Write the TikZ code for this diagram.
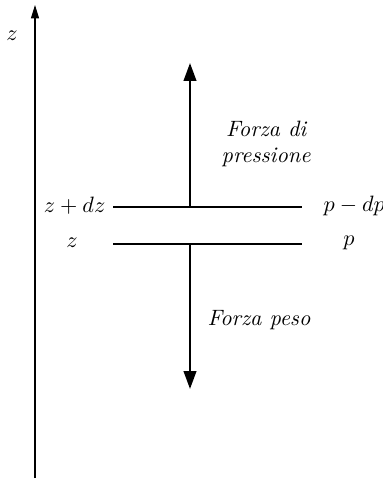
\documentclass[tikz,border=0pt]{standalone}
\usetikzlibrary{arrows.meta}
\tikzset{
  axisArr/.style={
    -{Triangle[length=6pt, width=3.6pt]}, line width=0.5pt
  },
  forceArr/.style={
    -{Triangle[length=8pt, width=5.6pt]}, line width=1pt
  },
  layer/.style={
    line width=0.5pt
  },
  lbl/.style={
    font=\normalsize, inner sep=1pt
  },
  forceLbl/.style={
    font=\normalsize\itshape, align=left, inner sep=1pt
  }
}

\begin{document}
\begin{tikzpicture}[x=0.45pt, y=-0.45pt]

  \useasboundingbox (0,0) rectangle (383,480);

  % vertical axis
  \coordinate (ax0) at (35,478);
  \coordinate (ax1) at (35,5);
  \draw[axisArr] (ax0) -- (ax1);
  \node[lbl] (zAxis) at (12,36) {$z$};

  % the two layers
  \coordinate (upL) at (113,207);
  \coordinate (upR) at (302,207);
  \coordinate (dnL) at (113,244);
  \coordinate (dnR) at (302,244);
  \draw[layer] (upL) -- (upR);
  \draw[layer] (dnL) -- (dnR);

  \node[lbl, anchor=east] (zTop) at (108,206) {$z+dz$};
  \node[lbl] (zBot) at (72,243) {$z$};
  \node[lbl, anchor=west] (pTop) at (321,206) {$p-dp$};
  \node[lbl] (pBot) at (349,243) {$p$};

  % forces
  \coordinate (fUp0) at (190,207);
  \coordinate (fUp1) at (190,63);
  \coordinate (fDn0) at (190,244);
  \coordinate (fDn1) at (190,389);
  \draw[forceArr] (fUp0) -- (fUp1);
  \draw[forceArr] (fDn0) -- (fDn1);

  \node[forceLbl, anchor=west] (fPress) at (219,144) {\hspace{2pt}Forza di\\pressione};
  \node[forceLbl] (fPeso) at (259,320) {Forza peso};

\end{tikzpicture}
\end{document}
